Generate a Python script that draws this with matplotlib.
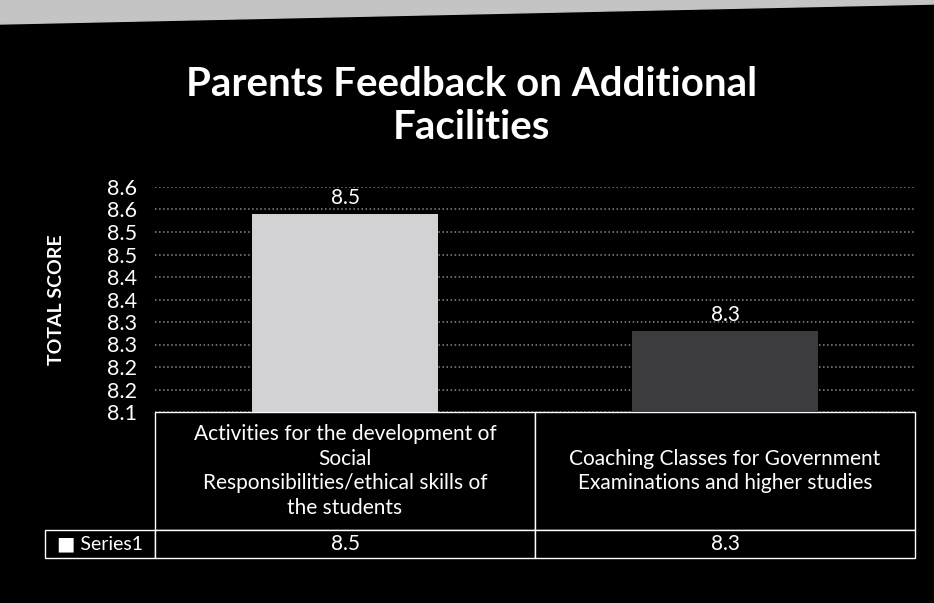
import matplotlib
matplotlib.use("Agg")
import matplotlib.pyplot as plt
from matplotlib.patches import Polygon

plt.rcParams['font.family'] = ['Lato', 'DejaVu Sans']

# data
categories = ["Activities for the development of\nSocial\nResponsibilities/ethical skills of\nthe students",
              "Coaching Classes for Government\nExaminations and higher studies"]
scores = [8.54, 8.28]
score_labels = ["8.5", "8.3"]
series_name = "Series1"
y_ticks = [8.10, 8.15, 8.20, 8.25, 8.30, 8.35, 8.40, 8.45, 8.50, 8.55, 8.60]
y_tick_labels = ["8.1", "8.2", "8.2", "8.3", "8.3", "8.4", "8.4", "8.5", "8.5", "8.6", "8.6"]
bar_colors = ["#d2d2d4", "#3c3c3e"]

fig = plt.figure(figsize=(9.34, 6.03), dpi=100, facecolor="black")
# light paper strip at the top of the photo
fig.patches.append(Polygon([(0, 1), (1, 1), (1, 1 - 4 / 603), (0, 1 - 24 / 603)],
                           closed=True, transform=fig.transFigure, color="#c4c4c4"))

ax = fig.add_axes([155 / 934, 1 - 412 / 603, 760 / 934, 225 / 603])
ax.set_facecolor("black")

x = range(len(categories))
bars = ax.bar(x, [s - y_ticks[0] for s in scores], bottom=y_ticks[0], width=0.49,
              color=bar_colors, zorder=3)
for i, b in enumerate(bars):
    ax.text(b.get_x() + b.get_width() / 2, scores[i] + 0.014, score_labels[i],
            ha="center", va="bottom", color="white", fontsize=15)

ax.set_xlim(-0.5, len(categories) - 0.5)
ax.set_ylim(y_ticks[0], y_ticks[-1])
ax.set_yticks(y_ticks)
ax.set_yticklabels(y_tick_labels)
ax.set_xticks([])
ax.tick_params(axis="y", length=0, pad=13, labelsize=15.5, colors="white")
for s in ax.spines.values():
    s.set_visible(False)
ax.yaxis.grid(True, linestyle=":", color="#8a8a8a", linewidth=1.1, zorder=0)
ax.set_ylabel("TOTAL SCORE", color="white", fontsize=14, fontweight="bold", labelpad=30)

# data table under the plot
leg_w = 110 / 760
tbl_h = 146 / 225
tbl = ax.table(cellText=[[""] + categories, ["\u25A0 " + series_name] + score_labels],
               colWidths=[110, 380, 380], cellLoc="center",
               bbox=[-leg_w, -tbl_h, 1 + leg_w, tbl_h])
tbl.auto_set_font_size(False)
tbl.set_fontsize(15)
for (r, c), cell in tbl.get_celld().items():
    cell.set_facecolor("black")
    cell.set_edgecolor("white")
    cell.set_linewidth(1.0)
    cell.get_text().set_color("white")
    cell.get_text().set_linespacing(1.3)
    cell.set_height(118 if r == 0 else 28)
    if r == 0 and c == 0:
        cell.visible_edges = ""
tbl[(1, 0)].get_text().set_fontsize(14)

fig.text(0.505, 1 - 106 / 603, "Parents Feedback on Additional\nFacilities",
         ha="center", va="center", color="white", fontsize=29, fontweight="bold",
         linespacing=1.2)

fig.savefig("out.png", dpi=100, facecolor=fig.get_facecolor())
